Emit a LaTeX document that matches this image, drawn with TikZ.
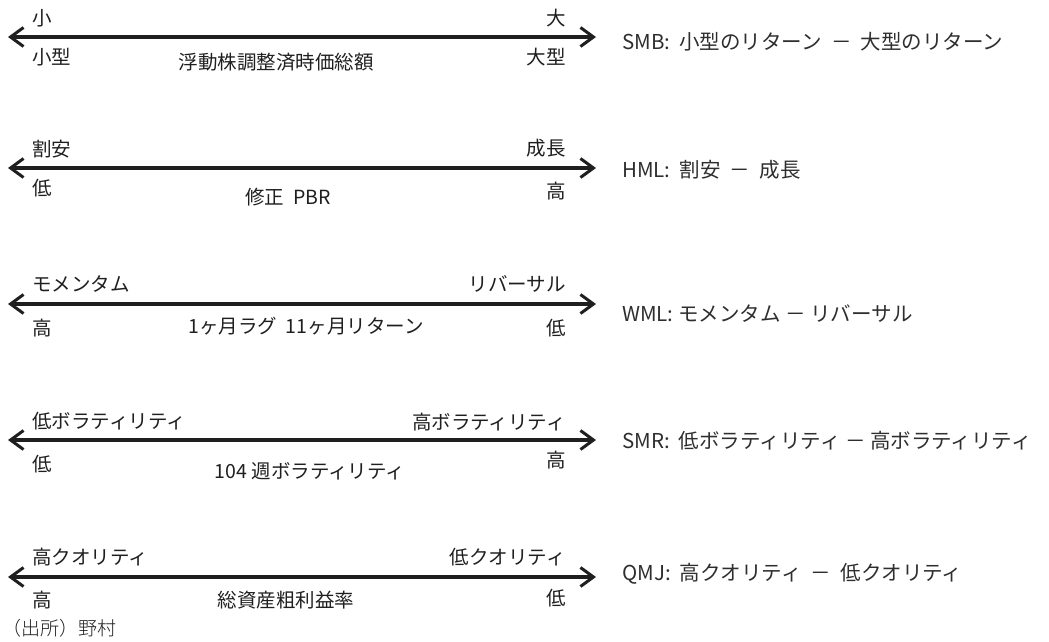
\documentclass[tikz,border=0pt]{standalone}
\usepackage{fontspec}
\setmainfont{Noto Sans CJK JP}
\newfontfamily\srcfont{Noto Sans CJK JP Light}
\usetikzlibrary{arrows.meta}
\tikzset{
  lbl/.style={inner sep=0pt, font=\fontsize{19.5}{22}\selectfont, text=black!88},
  rlbl/.style={inner sep=0pt, font=\fontsize{20.5}{23}\selectfont, text=black!82},
  axis/.style={line width=3.2pt, black!88, {Straight Barb[length=13pt,width=19pt,line width=3pt]}-{Straight Barb[length=13pt,width=19pt,line width=3pt]}}
}
\begin{document}
\begin{tikzpicture}[x=1pt,y=-1pt]
\useasboundingbox (0,0) rectangle (1049,641);
% row 1
\coordinate (l1) at (8,37); \coordinate (r1) at (596,37);
\draw[axis] (l1) -- (r1);
\node[lbl,anchor=west] (tl1) at (32,18) {小};
\node[lbl,anchor=east] (tr1) at (566,18) {大};
\node[lbl,anchor=west] (bl1) at (32,57) {小型};
\node[lbl,anchor=east] (br1) at (566,57) {大型};
\node[lbl] (c1) at (276,62) {浮動株調整済時価総額};
\node[rlbl,anchor=west] (d1) at (622,42) {SMB:\ \ 小型のリターン \ － \ 大型のリターン};
% row 2
\coordinate (l2) at (8,168); \coordinate (r2) at (596,168);
\draw[axis] (l2) -- (r2);
\node[lbl,anchor=west] (tl2) at (32,149) {割安};
\node[lbl,anchor=east] (tr2) at (566,148) {成長};
\node[lbl,anchor=west] (bl2) at (32,188) {低};
\node[lbl,anchor=east] (br2) at (566,191) {高};
\node[lbl] (c2) at (288,197) {修正\ \ PBR};
\node[rlbl,anchor=west] (d2) at (622,170) {HML:\ \ 割安 \ － \ 成長};
% row 3
\coordinate (l3) at (8,304); \coordinate (r3) at (596,304);
\draw[axis] (l3) -- (r3);
\node[lbl,anchor=west] (tl3) at (32,284) {モメンタム};
\node[lbl,anchor=east] (tr3) at (566,284) {リバーサル};
\node[lbl,anchor=west] (bl3) at (32,328) {高};
\node[lbl,anchor=east] (br3) at (566,328) {低};
\node[lbl] (c3) at (306,326) {1ヶ月ラグ\ \ 11ヶ月リターン};
\node[rlbl,anchor=west] (d3) at (622,314) {WML:\ モメンタム － リバーサル};
% row 4
\coordinate (l4) at (8,440); \coordinate (r4) at (596,440);
\draw[axis] (l4) -- (r4);
\node[lbl,anchor=west] (tl4) at (32,421) {低ボラティリティ};
\node[lbl,anchor=east] (tr4) at (566,422) {高ボラティリティ};
\node[lbl,anchor=west] (bl4) at (32,464) {低};
\node[lbl,anchor=east] (br4) at (566,460) {高};
\node[lbl] (c4) at (310,471) {104 週ボラティリティ};
\node[rlbl,anchor=west] (d4) at (622,441) {SMR:\ \ 低ボラティリティ － 高ボラティリティ};
% row 5
\coordinate (l5) at (8,577); \coordinate (r5) at (596,577);
\draw[axis] (l5) -- (r5);
\node[lbl,anchor=west] (tl5) at (32,557) {高クオリティ};
\node[lbl,anchor=east] (tr5) at (566,557) {低クオリティ};
\node[lbl,anchor=west] (bl5) at (32,600) {高};
\node[lbl,anchor=east] (br5) at (566,598) {低};
\node[lbl] (c5) at (286,600) {総資産粗利益率};
\node[rlbl,anchor=west] (d5) at (622,574) {QMJ:\ \ 高クオリティ \ － \ 低クオリティ};
% source
\node[lbl,anchor=west,font=\srcfont\fontsize{19}{22}\selectfont] (src) at (2,628) {（出所）野村};
\end{tikzpicture}
\end{document}
